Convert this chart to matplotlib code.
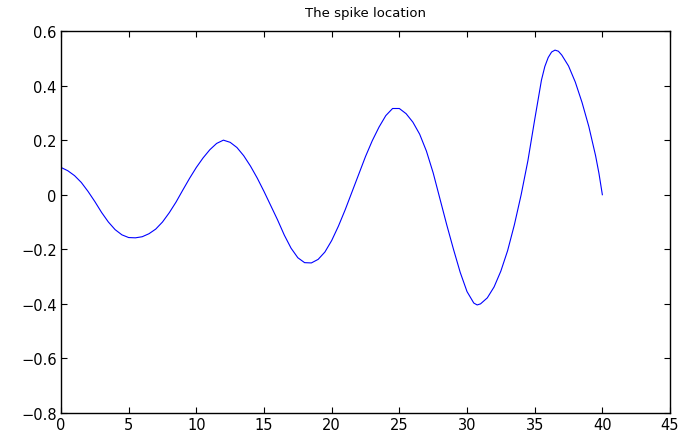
import numpy as np
import matplotlib
matplotlib.use("Agg")
import matplotlib.pyplot as plt

# curve
x = [0.0, 0.5, 1.0, 1.5, 2.0, 2.5, 3.0, 3.5, 4.0, 4.5, 5.0, 5.5, 6.0,
     6.5, 7.0, 7.5, 8.0, 8.5, 9.0, 9.5, 10.0, 10.5, 11.0, 11.5, 12.0, 12.5,
     13.0, 13.5, 14.0, 14.5, 15.0, 15.5, 16.0, 16.5, 17.0, 17.5, 18.0, 18.5,
     19.0, 19.5, 20.0, 20.5, 21.0, 21.5, 22.0, 22.5, 23.0, 23.5, 24.0, 24.5,
     25.0, 25.5, 26.0, 26.5, 27.0, 27.5, 28.0, 28.5, 29.0, 29.5, 30.0, 30.5,
     30.75, 31.0, 31.5, 32.0, 32.5, 33.0, 33.5, 34.0, 34.5, 35.0, 35.5, 35.75,
     36.0, 36.25, 36.5, 36.75, 37.0, 37.5, 38.0, 38.5, 39.0, 39.5, 39.75, 40.0]
y = [0.100, 0.088, 0.070, 0.045, 0.012, -0.025, -0.065, -0.100, -0.128, -0.147, -0.157, -0.158, -0.154,
     -0.143, -0.126, -0.100, -0.066, -0.027, 0.017, 0.060, 0.100, 0.135, 0.165, 0.188, 0.200, 0.192,
     0.173, 0.143, 0.105, 0.061, 0.012, -0.040, -0.092, -0.148, -0.196, -0.231, -0.249, -0.250,
     -0.237, -0.210, -0.168, -0.115, -0.055, 0.010, 0.075, 0.140, 0.198, 0.248, 0.290, 0.316,
     0.316, 0.297, 0.266, 0.222, 0.160, 0.080, -0.015, -0.110, -0.200, -0.285, -0.355, -0.397,
     -0.404, -0.400, -0.378, -0.338, -0.280, -0.205, -0.110, 0.000, 0.125, 0.275, 0.420, 0.470,
     0.503, 0.523, 0.530, 0.526, 0.512, 0.472, 0.413, 0.338, 0.250, 0.143, 0.078, 0.0]

xticks = [0, 5, 10, 15, 20, 25, 30, 35, 40, 45]
yticks = [-0.8, -0.6, -0.4, -0.2, 0, 0.2, 0.4, 0.6]

plt.rcParams['font.family'] = ['DejaVu Sans']

fig = plt.figure(figsize=(6.83, 4.35), dpi=100)
ax = fig.add_axes([0.0893, 0.0483, 0.8917, 0.8781])
ax.plot(x, y, color='blue', linewidth=0.8)

ax.set_xlim(0, 45)
ax.set_ylim(-0.8, 0.6)
ax.set_xticks(xticks)
ax.set_yticks(yticks)
ax.set_yticklabels([('%g' % v).replace('-', '\u2212') for v in yticks])
ax.tick_params(direction='in', top=True, right=True, labelsize=10.5, length=4, pad=3)
for s in ax.spines.values():
    s.set_linewidth(1.0)
ax.set_title("The spike location", fontsize=9.5, pad=11)

fig.savefig("out.png", dpi=100)
